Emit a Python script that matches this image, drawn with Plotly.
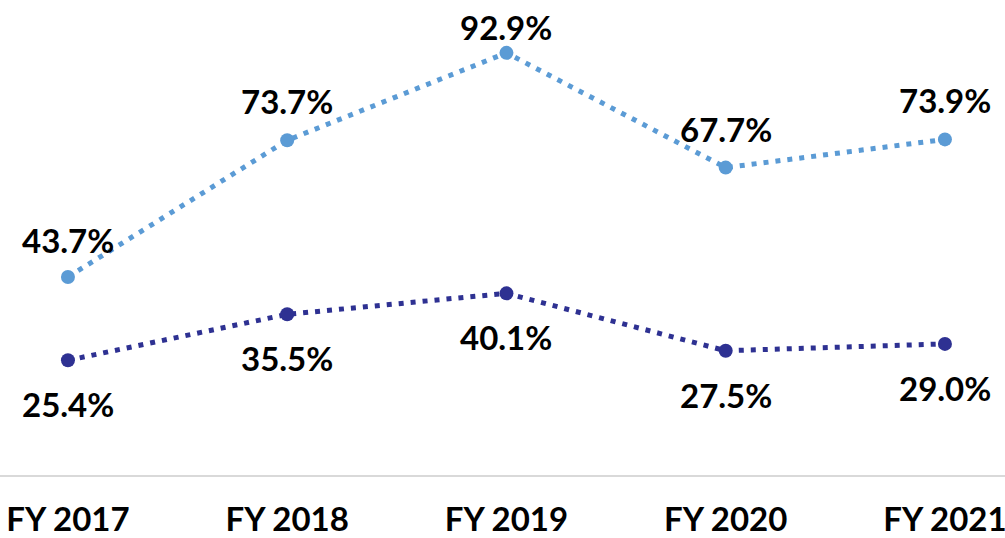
import plotly.graph_objects as go

years = ["FY 2017", "FY 2018", "FY 2019", "FY 2020", "FY 2021"]
upper_values = [43.7, 73.7, 92.9, 67.7, 73.9]
lower_values = [25.4, 35.5, 40.1, 27.5, 29.0]

LIGHT = "#5b9bd5"
DARK = "#2e3192"
FONT = "Lato"

upper_shift = [37, 39, 26, 39, 39]
lower_shift = -44

fig = go.Figure()
for values, color in ((upper_values, LIGHT), (lower_values, DARK)):
    fig.add_trace(
        go.Scatter(
            x=years,
            y=values,
            mode="lines+markers",
            line=dict(color=color, width=5, dash="5px,7px"),
            marker=dict(color=color, size=14),
            hoverinfo="skip",
            cliponaxis=False,
        )
    )

annotations = []
for i, yr in enumerate(years):
    annotations.append(
        dict(x=yr, y=upper_values[i], text=f"{upper_values[i]:.1f}%", yshift=upper_shift[i],
             showarrow=False, font=dict(family=FONT, size=33, color="#000000", weight="bold"))
    )
    annotations.append(
        dict(x=yr, y=lower_values[i], text=f"{lower_values[i]:.1f}%", yshift=lower_shift,
             showarrow=False, font=dict(family=FONT, size=33, color="#000000", weight="bold"))
    )

fig.update_layout(
    width=1005,
    height=538,
    paper_bgcolor="white",
    plot_bgcolor="white",
    margin=dict(l=0, r=0, t=0, b=62, autoexpand=False),
    showlegend=False,
    annotations=annotations,
    font=dict(family=FONT, size=33, color="#000000", weight="bold"),
    xaxis=dict(
        range=[-0.31, 4.274],
        showgrid=False,
        zeroline=False,
        showline=False,
        ticks="",
        ticklabelstandoff=21,
        tickfont=dict(family=FONT, size=33, color="#000000", weight="bold"),
    ),
    yaxis=dict(
        range=[0, 104.5],
        showgrid=False,
        zeroline=True,
        zerolinecolor="#d9d9d9",
        zerolinewidth=2,
        showticklabels=False,
        ticks="",
    ),
)

fig.write_html(
    "out.html",
    config={"displayModeBar": False},
    post_script="document.body.style.margin = '0';",
)
